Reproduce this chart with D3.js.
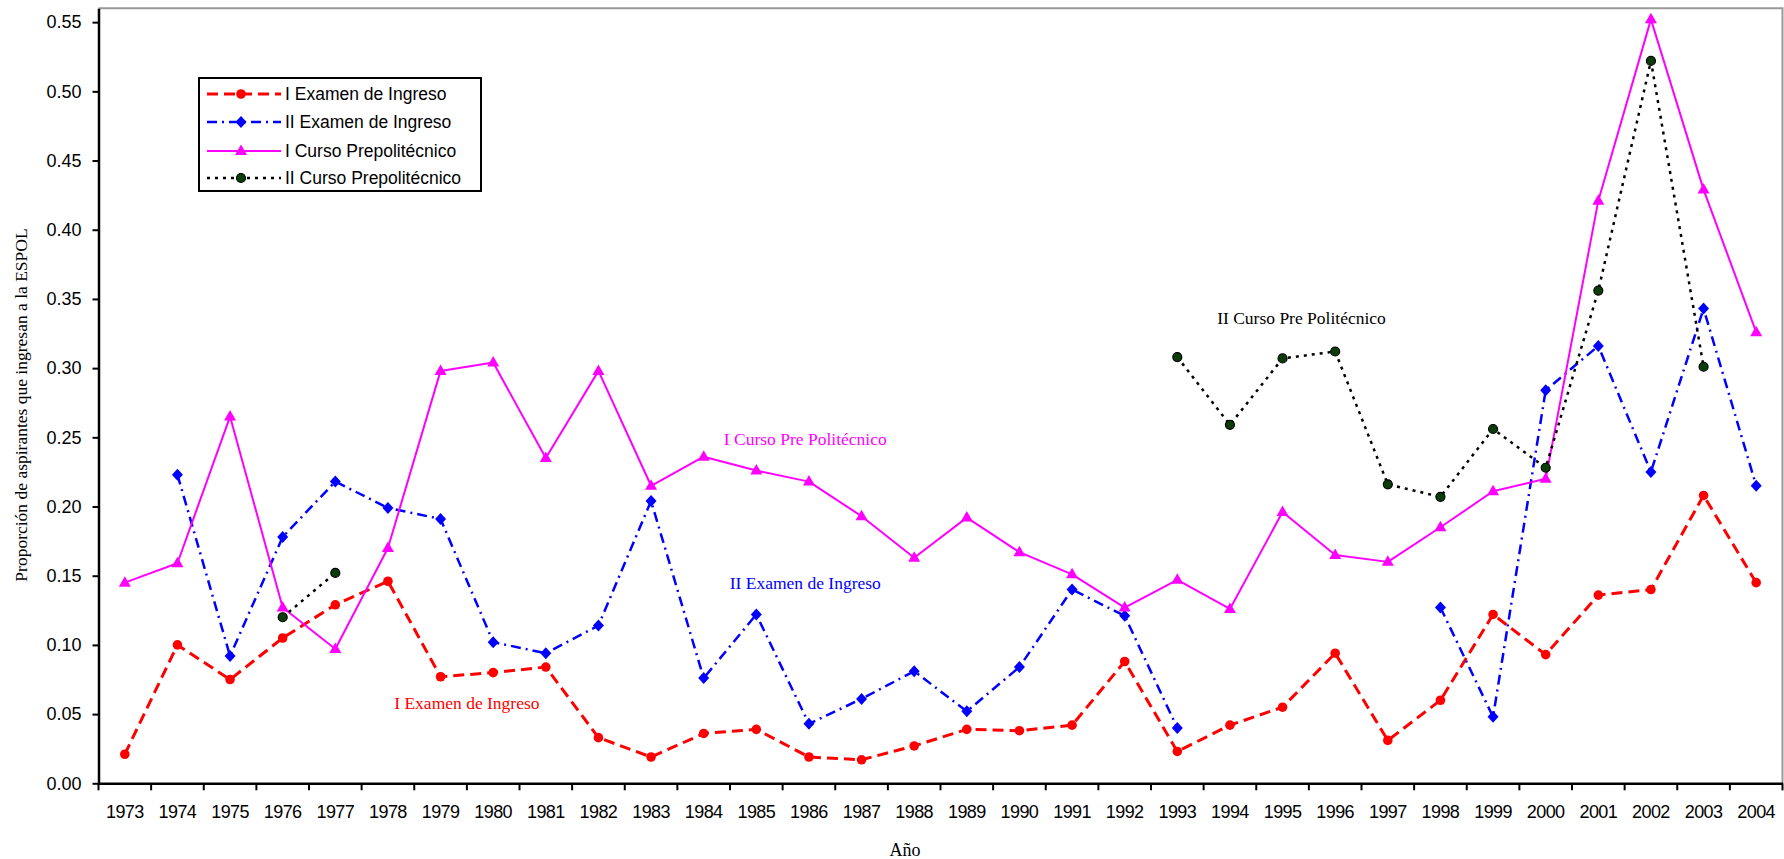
<!DOCTYPE html>
<html>
<head>
<meta charset="utf-8">
<script src="https://cdn.jsdelivr.net/npm/d3@7"></script>
<style>
  html, body { margin: 0; padding: 0; background: #fff; }
  svg { display: block; }
</style>
</head>
<body>
<svg id="chart" width="1784" height="859"></svg>
<script>
const years = ["1973","1974","1975","1976","1977","1978","1979","1980","1981","1982",
  "1983","1984","1985","1986","1987","1988","1989","1990","1991","1992",
  "1993","1994","1995","1996","1997","1998","1999","2000","2001","2002","2003","2004"];

const examenI = [0.021,0.100,0.075,0.105,0.129,0.146,0.077,0.080,0.084,0.033,
  0.019,0.036,0.039,0.019,0.017,0.027,0.039,0.038,0.042,0.088,
  0.023,0.042,0.055,0.094,0.031,0.060,0.122,0.093,0.136,0.140,0.208,0.145];

const examenII = [null,0.223,0.092,0.178,0.218,0.199,0.191,0.102,0.094,0.114,
  0.204,0.076,0.122,0.043,0.061,0.081,0.052,0.084,0.140,0.121,
  0.040,null,null,null,null,0.127,0.048,0.284,0.316,0.225,0.343,0.215];

const cursoI = [0.145,0.159,0.265,0.127,0.097,0.170,0.298,0.304,0.235,0.298,
  0.215,0.236,0.226,0.218,0.193,0.163,0.192,0.167,0.151,0.127,
  0.147,0.126,0.196,0.165,0.160,0.185,0.211,0.220,0.421,0.552,0.429,0.326];

const cursoII = [null,null,null,0.120,0.152,null,null,null,null,null,
  null,null,null,null,null,null,null,null,null,null,
  0.308,0.259,0.307,0.312,0.216,0.207,0.256,0.228,0.356,0.522,0.301,null];

const yTicks = [0,0.05,0.10,0.15,0.20,0.25,0.30,0.35,0.40,0.45,0.50,0.55];

const seriesNames = ["I Examen de Ingreso","II Examen de Ingreso","I Curso Prepolitécnico","II Curso Prepolitécnico"];

// annotation anchors in data units (year position on the category axis, proportion)
const annotationTexts = ["I Examen de Ingreso","I Curso Pre Politécnico","II Examen de Ingreso","II Curso Pre Politécnico"];
const annotationYears = [1980.0, 1986.43, 1986.43, 1995.86];
const annotationValues = [0.058, 0.249, 0.145, 0.336];
const annotationColors = ["#ff0000","#ff00ff","#0000ff","#000000"];

// ---- layout ----
const svg = d3.select("#chart");
const L = 98.5, R = 1782.5, T = 8.3, B = 783.3;

const x = d3.scaleBand().domain(years).range([L, R]).padding(0);
const cx = d => x(d) + x.bandwidth() / 2;
const xCont = d3.scaleLinear().domain([1973, 1973 + years.length]).range([L, R]);
const y = d3.scaleLinear().domain([0, 0.56]).range([B, T]);

// gray frame (top and right)
svg.append("path")
  .attr("d", `M${L},${T}H${R}V${B}`)
  .attr("fill", "none").attr("stroke", "#999").attr("stroke-width", 2);

// y axis
const yAxis = svg.append("g").attr("transform", `translate(${L},0)`)
  .call(d3.axisLeft(y).tickValues(yTicks).tickFormat(d3.format(".2f"))
    .tickSize(6).tickSizeOuter(0).tickPadding(11));
yAxis.select(".domain").attr("stroke", "#000").attr("stroke-width", 2.5);
yAxis.selectAll(".tick line").attr("stroke", "#000").attr("stroke-width", 2);
yAxis.selectAll(".tick text")
  .attr("font-family", "'Liberation Sans', Arial, sans-serif")
  .attr("font-size", 18).attr("fill", "#000");

// x axis (labels centered in bands, ticks on boundaries)
const xAxis = svg.append("g").attr("transform", `translate(0,${B})`)
  .call(d3.axisBottom(x).tickSize(0).tickSizeOuter(0).tickPadding(22));
xAxis.select(".domain").attr("stroke", "#000").attr("stroke-width", 2.5);
xAxis.selectAll(".tick text")
  .attr("font-family", "'Liberation Sans', Arial, sans-serif")
  .attr("font-size", 18).attr("fill", "#000").attr("letter-spacing", -0.6);
const bounds = years.map(d => x(d)).concat([x(years[years.length - 1]) + x.bandwidth()]);
svg.append("g").selectAll("line").data(bounds).join("line")
  .attr("x1", d => d).attr("x2", d => d)
  .attr("y1", B).attr("y2", B + 7)
  .attr("stroke", "#000").attr("stroke-width", 2);

// axis titles
svg.append("text")
  .attr("transform", `translate(21,405) rotate(-90)`)
  .attr("text-anchor", "middle").attr("dy", "0.35em")
  .attr("font-family", "'Liberation Serif', 'Times New Roman', serif")
  .attr("font-size", 17.5).attr("fill", "#000")
  .text("Proporción de aspirantes que ingresan a la ESPOL");
svg.append("text")
  .attr("x", 905).attr("y", 856)
  .attr("text-anchor", "middle")
  .attr("font-family", "'Liberation Serif', 'Times New Roman', serif")
  .attr("font-size", 18).attr("fill", "#000")
  .text("Año");

// ---- series ----
const diamond = "M0,-6L5.5,0L0,6L-5.5,0Z";
const triangle = "M0,-6.5L6,4L-6,4Z";

const series = [
  {name: seriesNames[0], values: examenI, color: "#ff0000", width: 3, dash: "11,6", marker: "circle", fill: "#ff0000"},
  {name: seriesNames[1], values: examenII, color: "#0000ff", width: 2.5, dash: "10,5,2,5", marker: "diamond", fill: "#0000ff"},
  {name: seriesNames[2], values: cursoI, color: "#ff00ff", width: 2, dash: null, marker: "triangle", fill: "#ff00ff"},
  {name: seriesNames[3], values: cursoII, color: "#000000", width: 2.5, dash: "3,5", marker: "dot", fill: "#0b3d0b"}
];

function drawMarker(g, s) {
  if (s.marker === "circle") {
    g.append("circle").attr("r", 4.8).attr("fill", s.fill);
  } else if (s.marker === "diamond") {
    g.append("path").attr("d", diamond).attr("fill", s.fill);
  } else if (s.marker === "triangle") {
    g.append("path").attr("d", triangle).attr("fill", s.fill);
  } else {
    g.append("circle").attr("r", 4.5).attr("fill", s.fill).attr("stroke", "#000").attr("stroke-width", 1.2);
  }
}

const line = d3.line().defined(d => d.v != null).x(d => cx(d.year)).y(d => y(d.v));

series.forEach(s => {
  const pts = years.map((yr, i) => ({year: yr, v: s.values[i]}));
  svg.append("path").datum(pts)
    .attr("d", line)
    .attr("fill", "none")
    .attr("stroke", s.color)
    .attr("stroke-width", s.width)
    .attr("stroke-dasharray", s.dash)
    .attr("stroke-linejoin", "round");
  const mg = svg.append("g");
  pts.filter(p => p.v != null).forEach(p => {
    const g = mg.append("g").attr("transform", `translate(${cx(p.year)},${y(p.v)})`);
    drawMarker(g, s);
  });
});

// annotations
annotationTexts.forEach((t, i) => {
  svg.append("text")
    .attr("x", xCont(annotationYears[i])).attr("y", y(annotationValues[i]))
    .attr("dy", "0.35em").attr("text-anchor", "middle")
    .attr("font-family", "'Liberation Serif', 'Times New Roman', serif")
    .attr("font-size", 17.5).attr("fill", annotationColors[i])
    .text(t);
});

// ---- legend ----
const lg = svg.append("g").attr("transform", "translate(199,78)");
lg.append("rect").attr("width", 282).attr("height", 113)
  .attr("fill", "#fff").attr("stroke", "#000").attr("stroke-width", 2);
const rowY = [16, 44, 73, 100];
series.forEach((s, i) => {
  const r = lg.append("g").attr("transform", `translate(0,${rowY[i]})`);
  r.append("line").attr("x1", 8).attr("x2", 82).attr("y1", 0).attr("y2", 0)
    .attr("stroke", s.color).attr("stroke-width", s.width)
    .attr("stroke-dasharray", s.dash);
  const mk = r.append("g").attr("transform", "translate(42,0)");
  drawMarker(mk, s);
  r.append("text").attr("x", 86).attr("y", 0).attr("dy", "0.35em")
    .attr("font-family", "'Liberation Sans', Arial, sans-serif")
    .attr("font-size", 17.5).attr("fill", "#000")
    .text(s.name);
});
</script>
</body>
</html>
